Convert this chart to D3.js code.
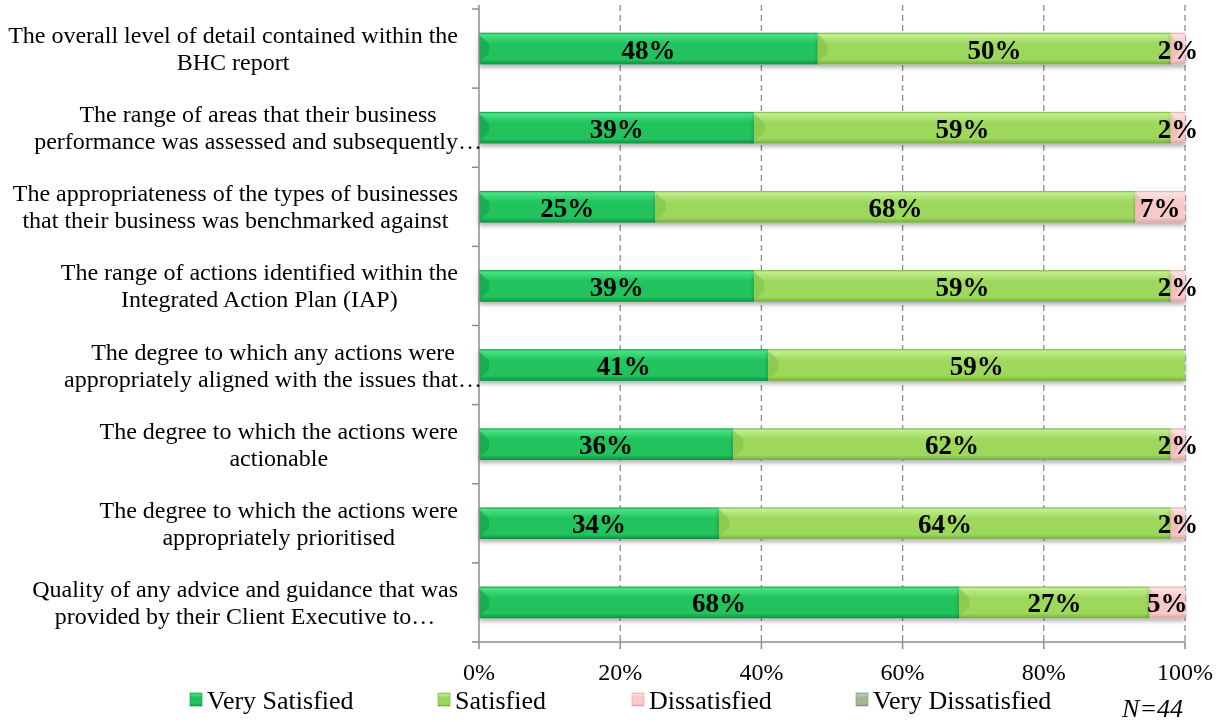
<!DOCTYPE html>
<html>
<head>
<meta charset="utf-8">
<script src="https://cdn.jsdelivr.net/npm/d3@7/dist/d3.min.js"></script>
<style>
  html, body { margin: 0; padding: 0; background: #fff; }
  svg { display: block; }
  text { font-family: "Liberation Serif", "Times New Roman", serif; fill: #000; }
</style>
</head>
<body>
<svg id="chart" width="1225" height="722"></svg>
<script>
// Survey statements (two wrapped lines each)
const categories = [
  ["The overall level of detail contained within the", "BHC report"],
  ["The range of areas that their business", "performance was assessed and subsequently…"],
  ["The appropriateness of the types of businesses", "that their business was benchmarked against"],
  ["The range of actions identified within the", "Integrated Action Plan (IAP)"],
  ["The degree to which any actions were", "appropriately aligned with the issues that…"],
  ["The degree to which the actions were", "actionable"],
  ["The degree to which the actions were", "appropriately prioritised"],
  ["Quality of any advice and guidance that was", "provided by their Client Executive to…"]
];
const seriesNames = ["Very Satisfied", "Satisfied", "Dissatisfied", "Very Dissatisfied"];
const verySatisfied    = [48, 39, 25, 39, 41, 36, 34, 68];
const satisfied        = [50, 59, 68, 59, 59, 62, 64, 27];
const dissatisfied     = [2, 2, 7, 2, 0, 2, 2, 5];
const veryDissatisfied = [0, 0, 0, 0, 0, 0, 0, 0];
const xTicks = [0, 20, 40, 60, 80, 100];
const sampleNote = "N=44";

const svg = d3.select("#chart");
const plotLeft = 479, plotRight = 1185, plotTop = 9, plotBottom = 642;

const x = d3.scaleLinear().domain([0, 100]).range([plotLeft, plotRight]);
const y = d3.scaleBand().domain(d3.range(categories.length)).range([plotTop, plotBottom]).paddingInner(0.6).paddingOuter(0.3);
const yOuter = d3.scaleBand().domain(d3.range(categories.length)).range([plotTop, plotBottom]);

const palette = [
  { light: "#48e384", mid: "#20c35d", dark: "#0f8f40", bevel: "#16a94d" },
  { light: "#c2ef8e", mid: "#9dd85c", dark: "#74ad3c", bevel: "#8ac84c" },
  { light: "#fde2e1", mid: "#f7c9c7", dark: "#dca5a3", bevel: "#efb9b7" },
  { light: "#c4d0b8", mid: "#a7b699", dark: "#7f8d72", bevel: "#95a487" }
];

const defs = svg.append("defs");
palette.forEach((c, i) => {
  const g = defs.append("linearGradient").attr("id", "grad" + i)
    .attr("x1", 0).attr("y1", 0).attr("x2", 0).attr("y2", 1);
  g.append("stop").attr("offset", "0%").attr("stop-color", c.dark);
  g.append("stop").attr("offset", "6%").attr("stop-color", c.light);
  g.append("stop").attr("offset", "35%").attr("stop-color", c.mid);
  g.append("stop").attr("offset", "85%").attr("stop-color", c.mid);
  g.append("stop").attr("offset", "100%").attr("stop-color", c.dark);
});
const shadow = defs.append("filter").attr("id", "shadow")
  .attr("x", "-5%").attr("y", "-20%").attr("width", "110%").attr("height", "160%");
shadow.append("feDropShadow").attr("dx", 0).attr("dy", 3).attr("stdDeviation", 2)
  .attr("flood-color", "#000").attr("flood-opacity", 0.3);

// Gridlines
svg.append("g").selectAll("line").data(xTicks.filter(t => t > 0)).join("line")
  .attr("x1", d => x(d)).attr("x2", d => x(d))
  .attr("y1", plotTop - 4).attr("y2", plotBottom)
  .attr("stroke", "#8c8c8c").attr("stroke-width", 1.3).attr("stroke-dasharray", "6,4");

// Stacked data
const rows = categories.map((c, i) => ({
  i,
  "Very Satisfied": verySatisfied[i],
  "Satisfied": satisfied[i],
  "Dissatisfied": dissatisfied[i],
  "Very Dissatisfied": veryDissatisfied[i]
}));
const stacked = d3.stack().keys(seriesNames)(rows);

const barsG = svg.append("g");
stacked.forEach((layer, si) => {
  const g = barsG.append("g").attr("filter", "url(#shadow)");
  layer.forEach((seg, ri) => {
    const w = x(seg[1]) - x(seg[0]);
    if (w <= 0) return;
    const y0 = y(ri), h = y.bandwidth(), x0 = x(seg[0]);
    g.append("rect").attr("x", x0).attr("y", y0).attr("width", w).attr("height", h)
      .attr("fill", `url(#grad${si})`);
    // Bevelled left edge
    const b = Math.min(10, w / 2);
    g.append("path")
      .attr("d", `M${x0},${y0 + 2}L${x0 + b},${y0 + h * 0.35}L${x0 + b},${y0 + h * 0.65}L${x0},${y0 + h - 2}Z`)
      .attr("fill", palette[si].bevel).attr("opacity", 0.8);
  });
});

// Value labels
const labelsG = svg.append("g");
stacked.forEach((layer) => {
  layer.forEach((seg, ri) => {
    const v = seg[1] - seg[0];
    if (v <= 0) return;
    labelsG.append("text")
      .attr("x", x((seg[0] + seg[1]) / 2))
      .attr("y", y(ri) + y.bandwidth() / 2 + 1)
      .attr("text-anchor", "middle").attr("dominant-baseline", "central")
      .attr("font-size", 27).attr("font-weight", "bold")
      .text(v + "%");
  });
});

// Axes
const axisColor = "#8c8c8c";
svg.append("line").attr("x1", plotLeft).attr("x2", plotLeft).attr("y1", plotTop - 4).attr("y2", plotBottom)
  .attr("stroke", axisColor).attr("stroke-width", 1.5);
svg.append("g").selectAll("line").data(d3.range(categories.length + 1)).join("line")
  .attr("x1", plotLeft - 7).attr("x2", plotLeft)
  .attr("y1", d => plotTop + d * yOuter.step()).attr("y2", d => plotTop + d * yOuter.step())
  .attr("stroke", axisColor).attr("stroke-width", 1.5);
svg.append("line").attr("x1", plotLeft).attr("x2", plotRight).attr("y1", plotBottom).attr("y2", plotBottom)
  .attr("stroke", axisColor).attr("stroke-width", 1.5);
svg.append("g").selectAll("line").data(xTicks).join("line")
  .attr("x1", d => x(d)).attr("x2", d => x(d)).attr("y1", plotBottom).attr("y2", plotBottom + 7)
  .attr("stroke", axisColor).attr("stroke-width", 1.5);
svg.append("g").selectAll("text").data(xTicks).join("text")
  .attr("x", d => x(d)).attr("y", 680).attr("text-anchor", "middle")
  .attr("font-size", 24).text(d => d + "%");

// Category labels: each block centred, right edge at the axis gap
const catG = svg.append("g");
const catSize = 24;
categories.forEach((lines, i) => {
  const cy = yOuter(i) + yOuter.bandwidth() / 2;
  const g = catG.append("g");
  const texts = lines.map((ln, k) => g.append("text")
    .attr("y", cy + (k - (lines.length - 1) / 2) * 27)
    .attr("dominant-baseline", "central")
    .attr("text-anchor", "middle")
    .attr("font-size", catSize).text(ln));
  const widths = texts.map((t, k) => {
    const full = t.node().getComputedTextLength();
    if (lines[k].endsWith("…")) {
      const tmp = g.append("text").attr("font-size", catSize).text("…");
      const e = tmp.node().getComputedTextLength();
      tmp.remove();
      return full - 2 * e;
    }
    return full;
  });
  const cx = 458 - d3.max(widths) / 2;
  texts.forEach(t => t.attr("x", cx));
});

// Legend
const legendX = [190, 438, 632, 856];
const legendG = svg.append("g");
seriesNames.forEach((name, i) => {
  const lx = legendX[i];
  legendG.append("rect").attr("x", lx).attr("y", 693).attr("width", 12).attr("height", 13)
    .attr("fill", `url(#grad${i})`).attr("stroke", palette[i].dark).attr("stroke-width", 0.6);
  legendG.append("text").attr("x", lx + 17).attr("y", 709)
    .attr("font-size", 26).text(name);
});

svg.append("text").attr("x", 1183).attr("y", 717).attr("text-anchor", "end")
  .attr("font-size", 26).attr("font-style", "italic").text(sampleNote);
</script>
</body>
</html>
